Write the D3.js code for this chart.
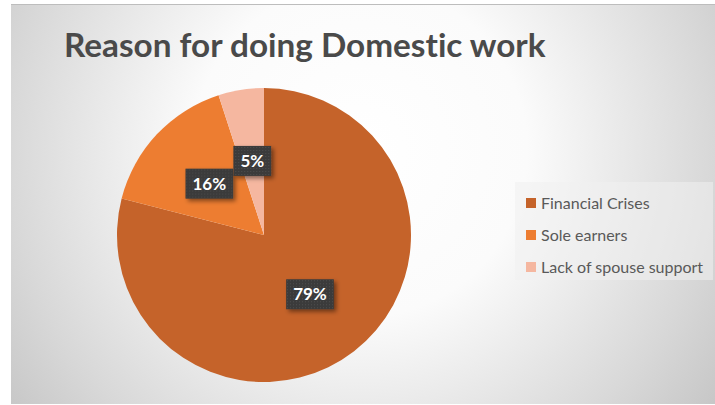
<!DOCTYPE html>
<html>
<head>
<meta charset="utf-8">
<script src="https://cdn.jsdelivr.net/npm/d3@7"></script>
<style>
  html, body { margin: 0; padding: 0; background: #ffffff; }
  svg { display: block; }
  text { font-variant-ligatures: none; }
</style>
</head>
<body>
<script>
// Reasons given for doing domestic work (share of respondents)
const categories = ["Financial Crises", "Sole earners", "Lack of spouse support"];
const values = [79, 16, 5];
const valueLabels = ["79%", "16%", "5%"];
const colors = ["#C5632A", "#ED7D31", "#F5B7A0"];
const title = "Reason for doing Domestic work";

const W = 715, H = 405;
const svg = d3.select("body").append("svg").attr("width", W).attr("height", H);
const defs = svg.append("defs");

// Chart-area background: soft radial gradient, white in the middle, grey at the edges
const bg = defs.append("radialGradient").attr("id", "bg")
  .attr("gradientUnits", "userSpaceOnUse")
  .attr("cx", 360).attr("cy", 150).attr("r", 440);
[[0, "#ffffff"], [0.38, "#fbfbfb"], [0.8, "#d8d8d8"], [1, "#c6c6c6"]]
  .forEach(([o, c]) => bg.append("stop").attr("offset", o).attr("stop-color", c));

// Dotted dark fill used behind the data labels
const pat = defs.append("pattern").attr("id", "dots")
  .attr("patternUnits", "userSpaceOnUse").attr("width", 3).attr("height", 3);
pat.append("rect").attr("width", 3).attr("height", 3).attr("fill", "#3a3a3a");
pat.append("rect").attr("x", 1).attr("y", 1).attr("width", 1).attr("height", 1).attr("fill", "#4e4e4e");

const shadow = defs.append("filter").attr("id", "shadow")
  .attr("x", "-30%").attr("y", "-30%").attr("width", "170%").attr("height", "170%");
shadow.append("feDropShadow").attr("dx", 2.5).attr("dy", 2.5).attr("stdDeviation", 2)
  .attr("flood-color", "#000").attr("flood-opacity", 0.45);

svg.append("rect").attr("x", 11).attr("y", 4).attr("width", W - 11).attr("height", 400)
  .attr("fill", "url(#bg)");
svg.append("line").attr("x1", 11).attr("x2", W).attr("y1", 4.5).attr("y2", 4.5)
  .attr("stroke", "#bdbdbd").attr("stroke-width", 1);

const FONT = "Lato, 'Open Sans', sans-serif";

svg.append("text")
  .attr("x", 64).attr("y", 57)
  .attr("font-family", FONT).attr("font-weight", 700).attr("font-size", 33.3)
  .attr("fill", "#4a4a4a")
  .text(title);

// Pie, clockwise from 12 o'clock in data order
const cx = 264, cy = 235, R = 147;
const pie = d3.pie().sort(null).value(d => d)(values);
const arc = d3.arc().innerRadius(0).outerRadius(R);

const g = svg.append("g").attr("transform", `translate(${cx},${cy})`);
g.selectAll("path.slice").data(pie).join("path")
  .attr("class", "slice")
  .attr("d", arc)
  .attr("fill", (d, i) => colors[i]);

// Data labels at about half the radius, on dark dotted boxes with a drop shadow
const lblR = 75;
const lblArc = d3.arc().innerRadius(lblR).outerRadius(lblR);
const lbl = g.selectAll("g.lbl").data(pie).join("g")
  .attr("class", "lbl")
  .attr("transform", d => `translate(${lblArc.centroid(d)})`);
lbl.each(function(d, i) {
  const sel = d3.select(this);
  const t = sel.append("text")
    .attr("text-anchor", "middle").attr("dy", "0.36em")
    .attr("font-family", FONT).attr("font-weight", 700).attr("font-size", 17)
    .attr("fill", "#ffffff")
    .text(valueLabels[i]);
  const w = t.node().getComputedTextLength() + 14;
  sel.insert("rect", "text")
    .attr("x", -w / 2).attr("y", -15).attr("width", w).attr("height", 30)
    .attr("fill", "url(#dots)")
    .attr("filter", "url(#shadow)");
});

// Legend
svg.append("rect").attr("x", 515).attr("y", 182).attr("width", 198).attr("height", 98)
  .attr("fill", "#f0f0f0").attr("fill-opacity", 0.55);
const leg = svg.append("g").selectAll("g").data(categories).join("g")
  .attr("transform", (d, i) => `translate(526,${203 + i * 32})`);
leg.append("rect").attr("x", 0).attr("y", -5).attr("width", 10).attr("height", 10)
  .attr("fill", (d, i) => colors[i]);
leg.append("text").attr("x", 15).attr("dy", "0.36em")
  .attr("font-family", FONT).attr("font-size", 16).attr("fill", "#595959")
  .text(d => d);
</script>
</body>
</html>
